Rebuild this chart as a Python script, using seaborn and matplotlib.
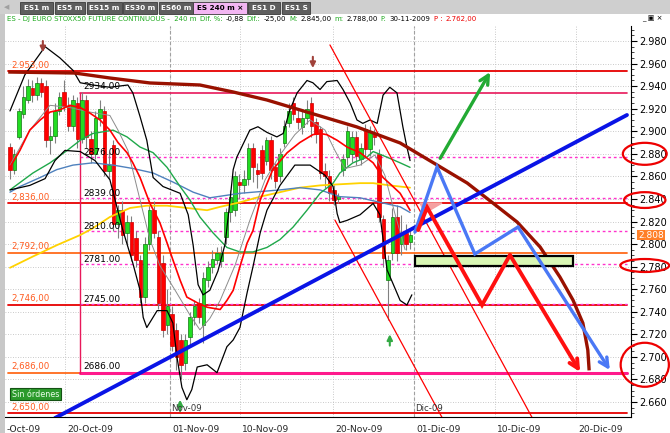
import numpy as np
import matplotlib
matplotlib.use("Agg")
import matplotlib.pyplot as plt
import matplotlib.transforms as mtransforms
from matplotlib.patches import Rectangle, Ellipse, Polygon
from matplotlib.ticker import MultipleLocator, FuncFormatter
import seaborn as sns

sns.set_style("white")
plt.rcParams['font.family'] = ['DejaVu Sans']

# ---- candles (240 m bars) ----
opens = [2886, 2866, 2895, 2915, 2928, 2938, 2932, 2943, 2940, 2892,
         2896, 2918, 2935, 2922, 2905, 2925, 2893, 2928, 2893, 2880,
         2912, 2918, 2865, 2888, 2818, 2830, 2810, 2820, 2805, 2786,
         2753, 2800, 2830, 2806, 2783, 2728, 2738, 2724, 2715, 2695,
         2718, 2735, 2748, 2728, 2768, 2780, 2786, 2785, 2806, 2828,
         2830, 2855, 2852, 2858, 2885, 2866, 2883, 2874, 2892, 2868,
         2860, 2890, 2907, 2925, 2912, 2904, 2912, 2925, 2908, 2902,
         2865, 2860, 2848, 2840, 2866, 2877, 2880, 2895, 2875, 2902,
         2884, 2898, 2880, 2822, 2768, 2792, 2824, 2800, 2810, 2802]
highs = [2890, 2884, 2921, 2940, 2946, 2945, 2948, 2947, 2945, 2905,
         2925, 2935, 2945, 2930, 2932, 2930, 2935, 2932, 2900, 2918,
         2928, 2922, 2882, 2892, 2835, 2838, 2826, 2825, 2812, 2790,
         2806, 2835, 2838, 2812, 2790, 2760, 2745, 2730, 2720, 2720,
         2740, 2750, 2752, 2775, 2785, 2795, 2797, 2798, 2832, 2848,
         2865, 2862, 2866, 2890, 2890, 2872, 2888, 2895, 2896, 2872,
         2885, 2910, 2925, 2930, 2920, 2918, 2928, 2930, 2912, 2905,
         2872, 2866, 2852, 2845, 2880, 2905, 2900, 2900, 2890, 2906,
         2905, 2902, 2884, 2826, 2790, 2832, 2835, 2826, 2818, 2814]
lows = [2858, 2862, 2893, 2912, 2925, 2926, 2928, 2930, 2886, 2880,
        2890, 2914, 2918, 2900, 2900, 2885, 2890, 2885, 2872, 2875,
        2905, 2860, 2858, 2812, 2805, 2800, 2800, 2785, 2780, 2748,
        2748, 2795, 2805, 2742, 2718, 2720, 2705, 2688, 2680, 2688,
        2710, 2728, 2730, 2712, 2762, 2774, 2782, 2780, 2800, 2820,
        2825, 2840, 2845, 2852, 2855, 2850, 2858, 2870, 2858, 2850,
        2855, 2886, 2904, 2910, 2902, 2898, 2906, 2895, 2890, 2858,
        2850, 2838, 2835, 2836, 2860, 2870, 2873, 2870, 2870, 2878,
        2878, 2888, 2820, 2780, 2733, 2786, 2785, 2790, 2795, 2796]
closes = [2866, 2880, 2918, 2930, 2940, 2932, 2943, 2935, 2892, 2896,
          2918, 2930, 2922, 2905, 2928, 2893, 2928, 2895, 2880, 2912,
          2920, 2865, 2870, 2818, 2830, 2808, 2820, 2790, 2786, 2753,
          2800, 2830, 2810, 2748, 2724, 2745, 2710, 2700, 2693, 2715,
          2735, 2745, 2735, 2770, 2780, 2787, 2792, 2792, 2828, 2842,
          2860, 2852, 2858, 2885, 2868, 2862, 2863, 2892, 2866, 2856,
          2880, 2905, 2918, 2915, 2908, 2912, 2920, 2905, 2898, 2863,
          2860, 2845, 2839, 2843, 2875, 2900, 2895, 2878, 2885, 2884,
          2900, 2895, 2824, 2788, 2786, 2824, 2792, 2810, 2800, 2808]

# ---- indicator lines, sampled along the bar axis ----
upper_x = [0, 3.3, 7.8, 11.1, 14, 15.6, 18.4, 22.2, 26.2, 27.3, 28.9, 30.4, 31.8, 34, 37.8,
           39.6, 40.7, 41.8, 42.9, 44.4, 46.2, 47.8, 48.9, 49.6, 50.4, 53.3, 55.1, 57.1,
           59.3, 60.7, 62.2, 63.8, 66, 67.3, 68.9, 70.4, 72.7, 74, 75.6, 77.1, 78.4, 80,
           81.6, 82.9, 84.4, 86, 87.3, 88.2, 88.9]
upper_y = [2918, 2950, 2975, 2965, 2954, 2943, 2941, 2939, 2941, 2934, 2913, 2892, 2859, 2851, 2845,
           2826, 2799, 2764, 2755, 2759, 2776, 2800, 2839, 2866, 2877, 2901, 2904, 2899,
           2895, 2898, 2919, 2934, 2945, 2943, 2937, 2944, 2945, 2937, 2925, 2910, 2907, 2910,
           2907, 2932, 2939, 2934, 2904, 2886, 2874]
lower_x = [0, 4.4, 7.8, 10, 12.2, 15.6, 18.9, 22.2, 25.1, 27.3, 28.9, 29.6, 30.4, 32.7, 34.9,
           36.2, 37.1, 38.2, 39.3, 40.4, 41.6, 43.8, 46, 48.2, 49.6, 51.1, 52.7, 54, 55.6,
           57.1, 60, 63.3, 66.7, 70, 71.8, 72.7, 73.3, 74.9, 77.8, 80.7, 82.2, 83.8, 85.1,
           86.7, 88.2, 89.3]
lower_y = [2848, 2852, 2858, 2874, 2883, 2882, 2874, 2857, 2812, 2783, 2759, 2735, 2726, 2741, 2741,
           2730, 2700, 2673, 2662, 2671, 2691, 2693, 2686, 2709, 2715, 2726, 2757, 2780, 2810,
           2830, 2852, 2870, 2870, 2861, 2851, 2827, 2819, 2821, 2826, 2836, 2826, 2777, 2765,
           2750, 2746, 2755]
mid_x = [0, 4.4, 8.9, 13.3, 17.8, 22.2, 24, 26.2, 28.9, 31.1, 33.3, 36.7, 40, 42.2, 44.4, 46.7,
         50, 53.3, 56.7, 60, 63.3, 66.7, 70, 72.2, 74.4, 77.8, 81.1, 83.3, 85.6, 87.8]
mid_y = [2870, 2901, 2923, 2921, 2917, 2914, 2901, 2883, 2839, 2804, 2781, 2759, 2737, 2724, 2734, 2750,
         2781, 2821, 2857, 2879, 2897, 2910, 2901, 2883, 2867, 2870, 2879, 2861, 2826, 2795]
red_x = [0, 2.2, 4.4, 6.7, 8.9, 11.1, 13.3, 15.6, 17.8, 20, 22.2, 24, 26, 27.3, 28.9, 31.1, 33.3,
         34.9, 36.2, 37.8, 39.3, 41.6, 43.8, 46.7, 48.2, 49.6, 51.1, 52.7, 54, 55.6, 58.4, 61.6,
         64.4, 67.3, 68.9, 70.4, 72.7, 74.9, 77.8, 80.7, 82.9, 85.1, 86.7, 88.9]
red_y = [2868, 2883, 2901, 2910, 2917, 2919, 2923, 2921, 2916, 2910, 2901, 2890, 2881, 2872, 2859, 2836, 2819,
         2801, 2786, 2768, 2753, 2748, 2744, 2742, 2750, 2759, 2780, 2801, 2812, 2839, 2866, 2881,
         2890, 2897, 2898, 2897, 2892, 2886, 2881, 2872, 2859, 2851, 2845, 2830]
green_x = [0, 5.1, 8.9, 12.7, 15.6, 18.4, 22.9, 26, 28.9, 31.8, 34.9, 37.8, 40, 42.2, 45.1, 48.2,
           51.1, 54, 57.1, 60, 62.9, 66, 68.9, 71.8, 73.3, 76.2, 79.3, 80.7, 83.8, 86.7, 88.9]
green_y = [2848, 2863, 2872, 2883, 2892, 2898, 2901, 2895, 2886, 2881, 2868, 2851, 2839, 2824, 2810, 2797,
           2793, 2793, 2797, 2804, 2815, 2830, 2845, 2854, 2863, 2872, 2877, 2882, 2877, 2872, 2868]
blue_x = [0, 2.2, 6.7, 10.4, 14, 18.4, 22.9, 27.3, 31.8, 36.2, 40.7, 44.4, 51.1, 60, 64.4, 68.9,
          73.3, 77.8, 82.2, 86.7, 88.9]
blue_y = [2846, 2851, 2859, 2866, 2870, 2872, 2870, 2867, 2863, 2855, 2846, 2841, 2845, 2848, 2850, 2848,
          2842, 2841, 2837, 2833, 2828]
yellow_x = [0, 5.1, 10.4, 15.6, 18.4, 22.2, 26.7, 30.4, 34.9, 39.3, 43.8, 46.7, 51.1, 55.6, 60,
            64.4, 68.9, 73.3, 77.8, 80.7, 84.4, 88.9]
yellow_y = [2779, 2789, 2799, 2808, 2814, 2824, 2832, 2834, 2834, 2832, 2830, 2833, 2837, 2842, 2846,
            2850, 2852, 2853, 2854, 2854, 2852, 2850]

# ---- levels ----
level_prices = [2953, 2836, 2792, 2746, 2686, 2650]
level_labels = ["2.953,00", "2,836,00", "2,792,00", "2,746,00", "2,686,00", "2,650,00"]
level_colors = ["#e60000", "#e60000", "#ff6a1a", "#e60000", "#ff6a1a", "#e60000"]
fib_prices = [2934, 2876, 2839, 2810, 2781, 2745, 2686]
fib_labels = ["2934.00", "2876.00", "2839.00", "2810.00", "2781.00", "2745.00", "2686.00"]
fib_start = 15.6
draw_end = 137.1

# ---- hand drawings (bar index, price) ----
arc_x = [-0.4, 14.4, 22.2, 31.1, 42.2, 49.6, 57.1, 66.7, 77.1, 86.7, 94.9, 101.6, 107.3, 112.7,
         117.8, 122.2, 125.1, 127.3, 128.4, 128.7]
arc_y = [2952.5, 2951.6, 2947.2, 2942.8, 2941, 2934.8, 2927.7, 2916.2, 2903.8, 2889.6, 2870.1,
         2854.1, 2836.4, 2819.5, 2797.4, 2770.8, 2750.4, 2730, 2706.1, 2688]
trend_x = [10, 137.1]
trend_y = [2645.8, 2914.4]
chan1_x = [71.1, 116.2]
chan1_y = [2976.5, 2644.9]
chan2_x = [72.2, 96.2]
chan2_y = [2821.3, 2644.9]
lblue_x = [90, 94.9, 103.3, 112.9, 133.3]
lblue_y = [2810.7, 2868.3, 2791.2, 2815.1, 2688.3]
rzig_x = [90.7, 92.7, 104.9, 111.1, 126.7]
rzig_y = [2812.4, 2832.5, 2746, 2790.3, 2686.6]
green_arrow_x = [95.6, 106.7]
green_arrow_y = [2876, 2952.5]
tri_x = [91.1, 96, 92.2]
tri_y = [2836.4, 2836.4, 2827.5]
box_x = [90, 125.1]
box_y = [2780.5, 2789.4]
down_marks_x = [7.3, 67.3]
down_marks_y = [2974, 2960]
up_marks_x = [37.8, 84.4]
up_marks_y = [2657, 2715]

date_pos = [-1.1, 12.2, 35.6, 51.1, 71.8, 89.8, 107.8, 125.8]
date_labels = ["-Oct-09", "20-Oct-09", "01-Nov-09", "10-Nov-09", "20-Nov-09",
               "01-Dic-09", "10-Dic-09", "20-Dic-09"]
month_pos = [35.6, 89.8]
month_labels = ["Nov-09", "Dic-09"]

circle_prices = [2880, 2839, 2781, 2693]
circle_heights = [19.5, 14, 11.5, 39]
circle_widths = [0.07, 0.066, 0.078, 0.077]
last_price = 2808

fig = plt.figure(figsize=(6.7, 4.33), dpi=100)
fig.patch.set_facecolor("white")
ax = fig.add_axes([5 / 670, 16 / 433, 626 / 670, 391 / 433])
ax.set_xlim(-1.11, 138.0)
ax.set_ylim(2646.7, 2993.3)

# grid
for p in np.arange(2660, 2990, 20):
    ax.axhline(p, color="#b8b8b8", lw=0.6, ls=(0, (1, 2)), zorder=0)
for d in date_pos[1:]:
    ax.axvline(d, color="#b8b8b8", lw=0.6, ls=(0, (1, 2)), zorder=0)
for m in month_pos:
    ax.axvline(m, color="#a0a0a0", lw=0.8, ls=(0, (3, 2)), zorder=0)

# horizontal levels
for p, lab, c in zip(level_prices, level_labels, level_colors):
    ax.plot([-0.4, draw_end], [p, p], color=c, lw=1.3, zorder=1)
    ax.text(0.4, p + 1.5, lab, color="#ff5a1e", fontsize=6.2, va="bottom", ha="left", zorder=6)

for p, lab in zip(fib_prices, fib_labels):
    if p == 2934:
        ax.plot([fib_start, draw_end], [p, p], color="#e8185a", lw=1.2, zorder=1)
    elif p == 2686:
        ax.plot([fib_start, draw_end], [p, p], color="#ff1a8c", lw=2.2, zorder=1)
    else:
        ax.plot([fib_start, draw_end], [p + 1.5, p + 1.5], color="#ff33cc", lw=1.0,
                ls=(0, (2, 2)), zorder=1)
    ax.text(fib_start + 0.6, p + 1.5, lab, color="black", fontsize=6.5, va="bottom", ha="left", zorder=6)
ax.plot([fib_start, fib_start], [fib_prices[-1], fib_prices[0]], color="#e8185a", lw=1.0, zorder=1)

# candles
bars = np.arange(len(closes))
o = np.array(opens)
c = np.array(closes)
up = c >= o
ax.vlines(bars, lows, highs, color="#808080", lw=0.8, zorder=2)
body = np.where(np.abs(c - o) < 1.5, 1.5, c - o)
ax.bar(bars, body, bottom=o, width=0.72, color=np.where(up, "#22dd22", "#ff0000"),
       edgecolor=np.where(up, "#117711", "#cc0000"), lw=0.5, zorder=3)

# indicators
sns.lineplot(x=yellow_x, y=yellow_y, color="#ffd200", lw=1.3, ax=ax, zorder=4)
sns.lineplot(x=blue_x, y=blue_y, color="#4f81bd", lw=1.0, ax=ax, zorder=4)
sns.lineplot(x=green_x, y=green_y, color="#1fa84a", lw=1.0, ax=ax, zorder=4)
sns.lineplot(x=mid_x, y=mid_y, color="#8c8c8c", lw=0.7, ax=ax, zorder=4)
sns.lineplot(x=red_x, y=red_y, color="#ff0000", lw=1.2, ax=ax, zorder=4)
sns.lineplot(x=upper_x, y=upper_y, color="black", lw=0.9, ax=ax, zorder=4)
sns.lineplot(x=lower_x, y=lower_y, color="black", lw=0.9, ax=ax, zorder=4)

# drawings
ax.plot(chan1_x, chan1_y, color="#ff0000", lw=0.9, zorder=5)
ax.plot(chan2_x, chan2_y, color="#ff0000", lw=0.9, zorder=5)
ax.plot(arc_x, arc_y, color="#991100", lw=2.4, zorder=5, solid_capstyle="butt")
ax.plot(trend_x, trend_y, color="#0a14e6", lw=2.8, zorder=5)
ax.add_patch(Polygon(list(zip(tri_x, tri_y)), closed=True, color="#f5a0a0", zorder=5))
ax.add_patch(Rectangle((box_x[0], box_y[0]), box_x[1] - box_x[0], box_y[1] - box_y[0],
                       facecolor="#d9f7b4", edgecolor="black", lw=1.6, zorder=5))


def zigzag(xs, ys, color, lw):
    ax.plot(xs[:-1], ys[:-1], color=color, lw=lw, zorder=6, solid_joinstyle="miter")
    ax.annotate("", xy=(xs[-1], ys[-1]), xytext=(xs[-2], ys[-2]),
                arrowprops=dict(arrowstyle="->", color=color, lw=lw, mutation_scale=16,
                                shrinkA=0, shrinkB=0), zorder=6)


zigzag(lblue_x, lblue_y, "#4a78f5", 2.4)
zigzag(rzig_x, rzig_y, "#ff1010", 2.8)
zigzag(green_arrow_x, green_arrow_y, "#22aa33", 2.4)

for x, y in zip(down_marks_x, down_marks_y):
    ax.annotate("", xy=(x, y - 4), xytext=(x, y + 6),
                arrowprops=dict(arrowstyle="-|>", color="#a0413a", lw=1.5, mutation_scale=8,
                                shrinkA=0, shrinkB=0), zorder=6)
for x, y in zip(up_marks_x, up_marks_y):
    ax.annotate("", xy=(x, y + 5), xytext=(x, y - 5),
                arrowprops=dict(arrowstyle="-|>", color="#33aa44", lw=1.5, mutation_scale=8,
                                shrinkA=0, shrinkB=0), zorder=6)

for m, lab in zip(month_pos, month_labels):
    ax.text(m + 0.2, 2650.5, lab, fontsize=6.2, color="#333333", ha="left", va="bottom", zorder=6)

ax.text(0.011, 0.047, "Sin órdenes", transform=ax.transAxes, fontsize=5.8, color="#eaffea",
        ha="left", va="bottom", zorder=7,
        bbox=dict(boxstyle="square,pad=0.2", facecolor="#2c9a2c", edgecolor="#145214", lw=0.8))

# axes styling
ax.yaxis.tick_right()
ax.yaxis.set_major_locator(MultipleLocator(20))
ax.yaxis.set_minor_locator(MultipleLocator(5))
ax.yaxis.set_major_formatter(FuncFormatter(lambda v, pos: f"{v / 1000:.3f}"))
ax.tick_params(axis="y", which="major", direction="out", length=4, width=0.8, labelsize=7,
               colors="black", pad=2)
ax.tick_params(axis="y", which="minor", direction="out", length=2, width=0.6)
ax.set_xticks(date_pos)
ax.set_xticklabels(date_labels, ha="left", fontsize=6.6)
ax.tick_params(axis="x", direction="out", length=5, width=0.8, pad=1)
for lbl in ax.get_xticklabels():
    lbl.set_transform(lbl.get_transform() + mtransforms.ScaledTranslation(2 / 100, 0, fig.dpi_scale_trans))
for s in ["top", "left"]:
    ax.spines[s].set_visible(False)
ax.spines["right"].set_color("black")
ax.spines["bottom"].set_color("black")
ax.set_xlabel("")
ax.set_ylabel("")

# price circles drawn on the scale
trans = mtransforms.blended_transform_factory(ax.transAxes, ax.transData)
for p, h, w in zip(circle_prices, circle_heights, circle_widths):
    ax.add_patch(Ellipse((1.022, p), w, h, transform=trans, fill=False, edgecolor="#ee0000",
                         lw=1.6, clip_on=False, zorder=8))
ax.text(1.011, last_price, f"{last_price / 1000:.3f}", transform=trans, fontsize=6.5, color="white",
        ha="left", va="center", zorder=9, clip_on=False,
        bbox=dict(boxstyle="square,pad=0.1", facecolor="#ff7f27", edgecolor="none"))

# window chrome: tabs and info line
def px_rect(x, y, w, h, **kw):
    fig.add_artist(Rectangle((x / 670, 1 - (y + h) / 433), w / 670, h / 433,
                             transform=fig.transFigure, **kw))


px_rect(0, 0, 670, 14, facecolor="#cfcfcf", edgecolor="none")
px_rect(0, 14, 5, 419, facecolor="#c8c8c8", edgecolor="none")
tab_names = ["ES1 m", "ES5 m", "ES15 m", "ES30 m", "ES60 m", "ES 240 m \u00d7", "ES1 D", "ES1 S"]
tab_x = [20, 55, 87, 123, 159, 193, 248, 282]
tab_w = [33, 30, 35, 34, 34, 54, 32, 28]
for name, x, w in zip(tab_names, tab_x, tab_w):
    active = "240" in name
    px_rect(x, 2, w, 12, facecolor="#f3b6f3" if active else "#5e5e5e", edgecolor="#3a3a3a", lw=0.6)
    fig.text((x + w / 2) / 670, 1 - 8 / 433, name, fontsize=5.2, ha="center", va="center",
             color="black" if active else "white", fontweight="bold")
fig.text(4 / 670, 1 - 7 / 433, "\u25c0", fontsize=5, color="#a0a0a0", ha="left", va="center")

# info line: segments placed at their target x, pushed right if the previous one runs long
info = [("ES - DJ EURO STOXX50 FUTURE CONTINUOUS -  240 m", "#1faa1f", 7),
        ("Dif. %:", "#1faa1f", 182), ("-0,88", "black", 208), ("Dif.:", "#1faa1f", 236),
        ("-25,00", "black", 258), ("M:", "#1faa1f", 285), ("2.845,00", "black", 295),
        ("m:", "#1faa1f", 334), ("2.788,00", "black", 341), ("F:", "#1faa1f", 374),
        ("30-11-2009", "black", 385), ("P :", "#ee0000", 427), ("2.762,00", "#ee0000", 441)]
fig.canvas.draw()
renderer = fig.canvas.get_renderer()
prev_end = 0
for txt, col, x in info:
    x0 = max(x, prev_end + 3)
    t = fig.text(x0 / 670, 1 - 19 / 433, txt, fontsize=5.0, color=col, ha="left", va="center")
    prev_end = t.get_window_extent(renderer=renderer).x1
fig.text(652 / 670, 1 - 19 / 433, "_ \u25a3 \u00d7", fontsize=5, color="black", ha="center", va="center")

fig.savefig("out.png", dpi=100)
